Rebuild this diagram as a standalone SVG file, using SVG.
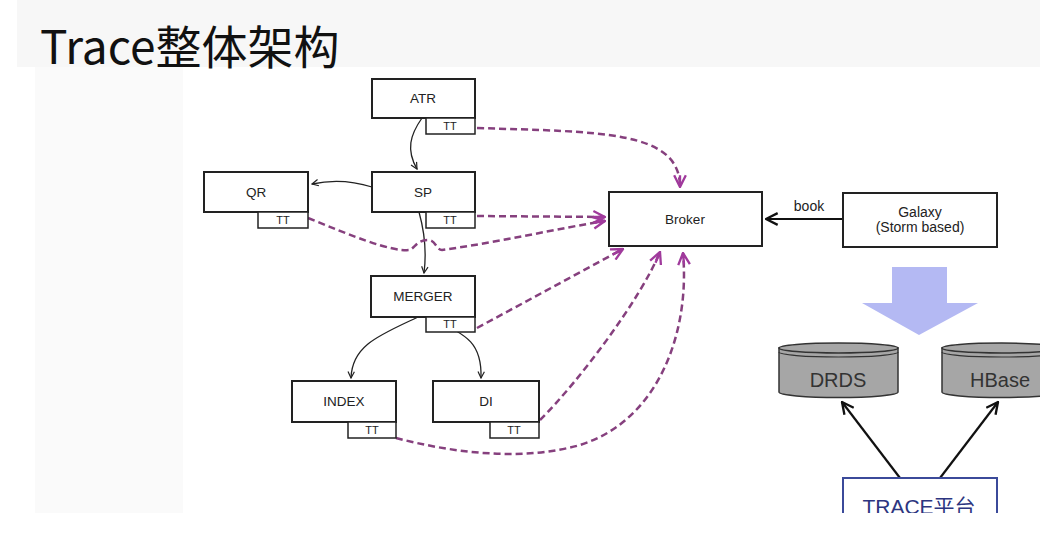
<svg xmlns="http://www.w3.org/2000/svg" width="1061" height="549" viewBox="0 0 1061 549">
<style>
.box{fill:#fff;stroke:#222;stroke-width:2}
.tt{fill:#fff;stroke:#222;stroke-width:1.5}
.lbl{font-family:"Liberation Sans",Arial,sans-serif;font-size:13.5px;fill:#222;text-anchor:middle}
.ttl{font-family:"Liberation Sans",Arial,sans-serif;font-size:11px;fill:#222;text-anchor:middle}
.solid{fill:none;stroke:#222;stroke-width:1.3}
.dash{fill:none;stroke:#86407e;stroke-width:2.5;stroke-dasharray:7 4}
.cyl{fill:#a6a6a6;stroke:#333;stroke-width:1.5}
</style>
<defs>
<marker id="ab" viewBox="0 0 10 10" refX="9" refY="5" markerWidth="8" markerHeight="8" orient="auto" markerUnits="userSpaceOnUse">
<path d="M1,1 L9,5 L1,9" fill="none" stroke="#222" stroke-width="1.5"/>
</marker>
<marker id="ap" viewBox="0 0 12 12" refX="11" refY="6" markerWidth="14" markerHeight="14" orient="auto" markerUnits="userSpaceOnUse">
<path d="M1,1 L11,6 L1,11 M1,6 L11,6" fill="none" stroke="#a03a9c" stroke-width="2"/>
</marker>
<marker id="ak" viewBox="0 0 12 12" refX="11" refY="6" markerWidth="14" markerHeight="14" orient="auto" markerUnits="userSpaceOnUse">
<path d="M1,1 L11,6 L1,11" fill="none" stroke="#111" stroke-width="2"/>
</marker>
<clipPath id="clip"><rect x="0" y="0" width="1040" height="513"/></clipPath>
</defs>
<rect width="1061" height="549" fill="#fff"/>
<rect x="17" y="0" width="1023" height="67" fill="#f7f7f7"/>
<rect x="35" y="67" width="148" height="446" fill="#fafafa"/>
<text x="40" y="64" font-family="'Noto Sans CJK SC','Noto Sans',sans-serif" font-size="46" fill="#111">Trace整体架构</text>

<g clip-path="url(#clip)">
<g id="connectors">
<path class="solid" d="M422,118 C410,135 406,150 417,169" marker-end="url(#ab)"/>
<path class="solid" d="M372,187 C350,180 330,180 312,184" marker-end="url(#ab)"/>
<path class="solid" d="M419,212 C424,230 427,250 424,273" marker-end="url(#ab)"/>
<path class="solid" d="M418,317 C380,335 352,345 351,378" marker-end="url(#ab)"/>
<path class="solid" d="M428,317 C470,335 482,345 481,378" marker-end="url(#ab)"/>
<path class="dash" d="M477,128 C600,132 680,130 680,187" marker-end="url(#ap)"/>
<path class="dash" d="M477,216 L605,217" marker-end="url(#ap)"/>
<path class="dash" d="M308,218 C350,235 390,252 410,250 C416,246 418,240 428,240 C436,240 436,250 442,250 C500,242 560,228 605,221" marker-end="url(#ap)"/>
<path class="dash" d="M477,328 L623,249" marker-end="url(#ap)"/>
<path class="dash" d="M540,420 C580,380 640,300 660,252" marker-end="url(#ap)"/>
<path class="dash" d="M396,438 C450,452 520,462 580,445 C660,420 690,330 683,253" marker-end="url(#ap)"/>
<path d="M843,219 L766,219" fill="none" stroke="#111" stroke-width="2.2" marker-end="url(#ak)"/>
<text x="809" y="211" font-family="'Liberation Sans',Arial,sans-serif" font-size="14" fill="#222" text-anchor="middle">book</text>
<path d="M900,478 L842,402" fill="none" stroke="#111" stroke-width="2.2" marker-end="url(#ak)"/>
<path d="M940,478 L998,402" fill="none" stroke="#111" stroke-width="2.2" marker-end="url(#ak)"/>
</g>

<g id="ATR">
<rect class="box" x="372" y="79" width="103" height="39"/>
<rect class="tt" x="426" y="118" width="49" height="16"/>
<text class="lbl" x="423" y="103">ATR</text>
<text class="ttl" x="450" y="130">TT</text>
</g>
<g id="SP">
<rect class="box" x="372" y="172" width="103" height="40"/>
<rect class="tt" x="426" y="212" width="49" height="16"/>
<text class="lbl" x="423" y="197">SP</text>
<text class="ttl" x="450" y="224">TT</text>
</g>
<g id="QR">
<rect class="box" x="204" y="172" width="104" height="40"/>
<rect class="tt" x="258" y="212" width="50" height="16"/>
<text class="lbl" x="256" y="197">QR</text>
<text class="ttl" x="283" y="224">TT</text>
</g>
<g id="MERGER">
<rect class="box" x="371" y="276" width="104" height="41"/>
<rect class="tt" x="426" y="317" width="49" height="15"/>
<text class="lbl" x="423" y="301">MERGER</text>
<text class="ttl" x="450" y="328">TT</text>
</g>
<g id="INDEX">
<rect class="box" x="292" y="381" width="104" height="41"/>
<rect class="tt" x="348" y="422" width="48" height="16"/>
<text class="lbl" x="344" y="406">INDEX</text>
<text class="ttl" x="372" y="434">TT</text>
</g>
<g id="DI">
<rect class="box" x="433" y="381" width="106" height="41"/>
<rect class="tt" x="490" y="422" width="49" height="16"/>
<text class="lbl" x="486" y="406">DI</text>
<text class="ttl" x="514" y="434">TT</text>
</g>
<g id="Broker">
<rect class="box" x="609" y="192" width="153" height="54"/>
<text class="lbl" x="685" y="224">Broker</text>
</g>
<g id="Galaxy">
<rect class="box" x="843" y="193" width="154" height="54"/>
<text class="lbl" x="920" y="217" style="font-size:14px">Galaxy</text>
<text class="lbl" x="920" y="232" style="font-size:14px">(Storm based)</text>
</g>
<g id="bigarrow">
<path d="M892,267 L947,267 L947,303 L978,303 L919,335 L862,303 L892,303 Z" fill="#b4b9f3"/>
</g>
<g id="DRDS">
<path class="cyl" d="M779,348 L779,392 A59.5,5.5 0 0 0 898,392 L898,348 Z"/>
<ellipse class="cyl" cx="838.5" cy="348" rx="59.5" ry="5"/>
<path d="M779,352 A59.5,5 0 0 0 898,352" fill="none" stroke="#333" stroke-width="1.2"/>
<text x="838" y="387" font-family="'Liberation Sans',Arial,sans-serif" font-size="20" fill="#333" text-anchor="middle">DRDS</text>
</g>
<g id="HBase">
<path class="cyl" d="M942,348 L942,392 A59.5,5.5 0 0 0 1061,392 L1061,348 Z"/>
<ellipse class="cyl" cx="1001.5" cy="348" rx="59.5" ry="5"/>
<path d="M942,352 A59.5,5 0 0 0 1061,352" fill="none" stroke="#333" stroke-width="1.2"/>
<text x="1000" y="387" font-family="'Liberation Sans',Arial,sans-serif" font-size="20" fill="#333" text-anchor="middle">HBase</text>
</g>
<g id="TRACE">
<rect x="843" y="478" width="154" height="60" fill="#fff" stroke="#3b4a9a" stroke-width="2"/>
<text x="919" y="514" font-family="'Liberation Sans','Noto Sans CJK SC',sans-serif" font-size="21" fill="#2c3580" text-anchor="middle">TRACE平台</text>
</g>
</g>
</svg>
